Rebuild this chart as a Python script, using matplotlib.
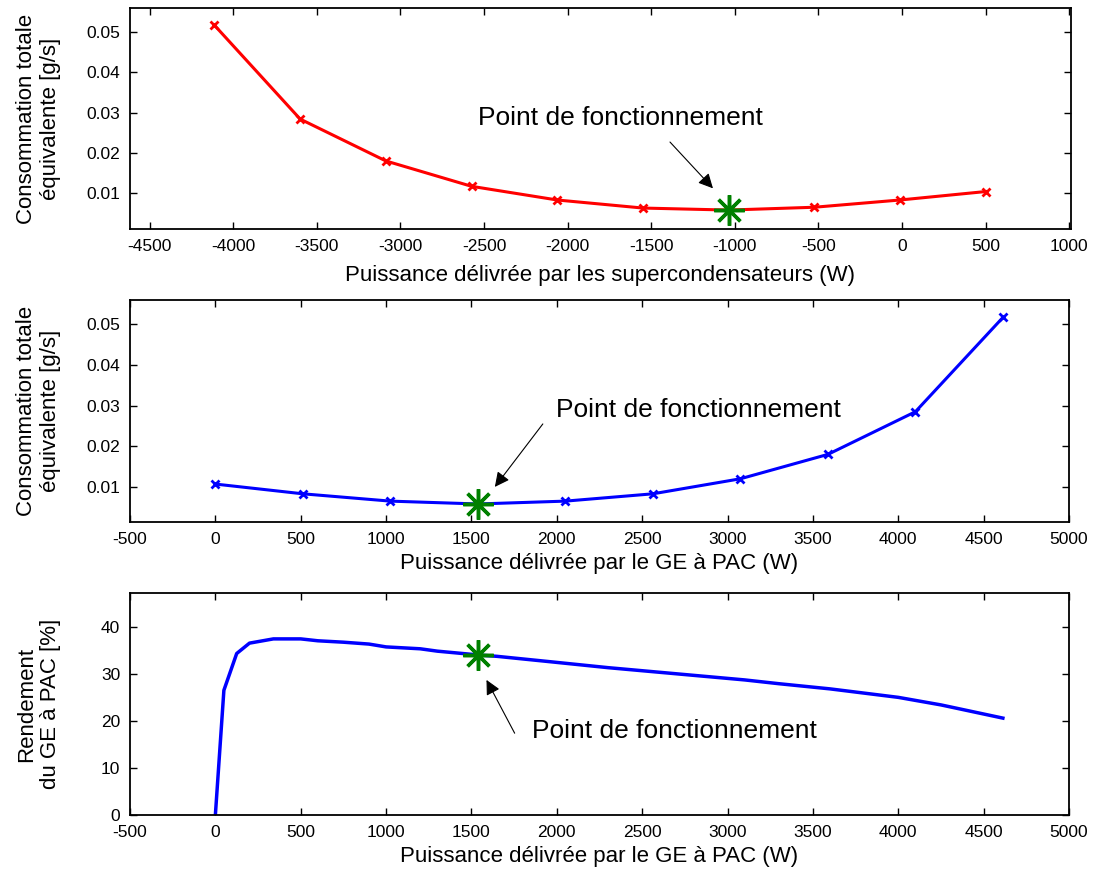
import numpy as np
import matplotlib
matplotlib.use("Agg")
import matplotlib.pyplot as plt

plt.rcParams['font.family'] = ['Liberation Sans', 'DejaVu Sans']
plt.rcParams['axes.unicode_minus'] = False

# Puissance du GE à PAC (W) et consommation équivalente (g/s)
p_ge = [0, 512.5, 1025, 1537.5, 2050, 2562.5, 3075, 3587.5, 4100, 4612.5]
conso = [0.0107, 0.0083, 0.0065, 0.0058, 0.0065, 0.0083, 0.0120, 0.0180, 0.0285, 0.0517]

# Puissance des supercondensateurs (W)
p_sc = [500, -12.5, -525, -1037.5, -1550, -2062.5, -2575, -3087.5, -3600, -4112.5]
conso_sc = [0.0104, 0.0083, 0.0065, 0.0058, 0.0063, 0.0083, 0.0117, 0.0180, 0.0284, 0.0517]

# Rendement du GE à PAC (%)
p_rend = [0, 50, 125, 200, 340, 500, 600, 750, 900, 1000, 1200, 1300, 1537.5, 1650,
          1950, 2300, 2700, 3100, 3300, 3600, 4000, 4250, 4612.5]
rend = [0, 26.5, 34.3, 36.5, 37.4, 37.4, 37.0, 36.7, 36.3, 35.7, 35.3, 34.8, 34.0, 33.7,
        32.6, 31.3, 30.0, 28.7, 27.9, 26.8, 25.0, 23.4, 20.6]

# Point de fonctionnement
pf_sc, pf_ge, pf_conso, pf_rend = -1037.5, 1537.5, 0.0058, 34.0

fig = plt.figure(figsize=(10.95, 8.77), dpi=100)
ax1 = fig.add_axes([0.1187, 0.7389, 0.8593, 0.2520])
ax2 = fig.add_axes([0.1187, 0.4045, 0.8576, 0.2534])
ax3 = fig.add_axes([0.1187, 0.0704, 0.8576, 0.2538])

star = (8, 2, 0)
txt = 'Point de fonctionnement'
arrow = dict(arrowstyle='-|>', color='black', lw=0.8, mutation_scale=22,
             shrinkA=0, shrinkB=0)

# Graphe 1
ax1.plot(p_sc, conso_sc, color='red', lw=2.2, marker='x', ms=6, mew=2)
ax1.plot(pf_sc, pf_conso, ls='none', marker=star, ms=22, mew=2.5, color='#008000')
ax1.annotate('', xy=(-1131, 0.0112), xytext=(-1388, 0.0227), arrowprops=arrow)
ax1.text(-1686, 0.0287, txt, fontsize=19, ha='center', va='center')
ax1.set_xlim(-4618, 1010)
ax1.set_ylim(0.0011, 0.056)
ax1.set_xticks(np.arange(-4500, 1001, 500))
ax1.set_yticks([0.01, 0.02, 0.03, 0.04, 0.05])
ax1.set_xlabel('Puissance délivrée par les supercondensateurs (W)', fontsize=16, labelpad=8)
ax1.set_ylabel('Consommation totale\néquivalente [g/s]', fontsize=16)

# Graphe 2
ax2.plot(p_ge, conso, color='blue', lw=2.2, marker='x', ms=6, mew=2)
ax2.plot(pf_ge, pf_conso, ls='none', marker=star, ms=22, mew=2.5, color='#008000')
ax2.annotate('', xy=(1637, 0.0100), xytext=(1918, 0.0255), arrowprops=arrow)
ax2.text(2831, 0.0289, txt, fontsize=19, ha='center', va='center')
ax2.set_xlim(-500, 5000)
ax2.set_ylim(0.0013, 0.056)
ax2.set_xticks(np.arange(-500, 5001, 500))
ax2.set_yticks([0.01, 0.02, 0.03, 0.04, 0.05])
ax2.set_xlabel('Puissance délivrée par le GE à PAC (W)', fontsize=16, labelpad=4)
ax2.set_ylabel('Consommation totale\néquivalente [g/s]', fontsize=16)

# Graphe 3
ax3.plot(p_rend, rend, color='blue', lw=2.5)
ax3.plot(pf_ge, pf_rend, ls='none', marker=star, ms=22, mew=2.5, color='#008000')
ax3.annotate('', xy=(1588, 28.7), xytext=(1753, 17.4), arrowprops=arrow)
ax3.text(2688, 17.9, txt, fontsize=19, ha='center', va='center')
ax3.set_xlim(-500, 5000)
ax3.set_ylim(0, 47.2)
ax3.set_xticks(np.arange(-500, 5001, 500))
ax3.set_yticks([0, 10, 20, 30, 40])
ax3.set_xlabel('Puissance délivrée par le GE à PAC (W)', fontsize=16, labelpad=4)
ax3.set_ylabel('Rendement\ndu GE à PAC [%]', fontsize=16)

for ax in (ax1, ax2, ax3):
    ax.tick_params(direction='in', top=True, right=True, length=5, width=1,
                   labelsize=12.5, pad=7)
    for s in ax.spines.values():
        s.set_linewidth(1.3)
    ax.yaxis.set_label_coords(-0.073, 0.5)

ax1.yaxis.set_major_formatter(matplotlib.ticker.FormatStrFormatter('%.2f'))
ax2.yaxis.set_major_formatter(matplotlib.ticker.FormatStrFormatter('%.2f'))

fig.savefig('out.png', dpi=100)
